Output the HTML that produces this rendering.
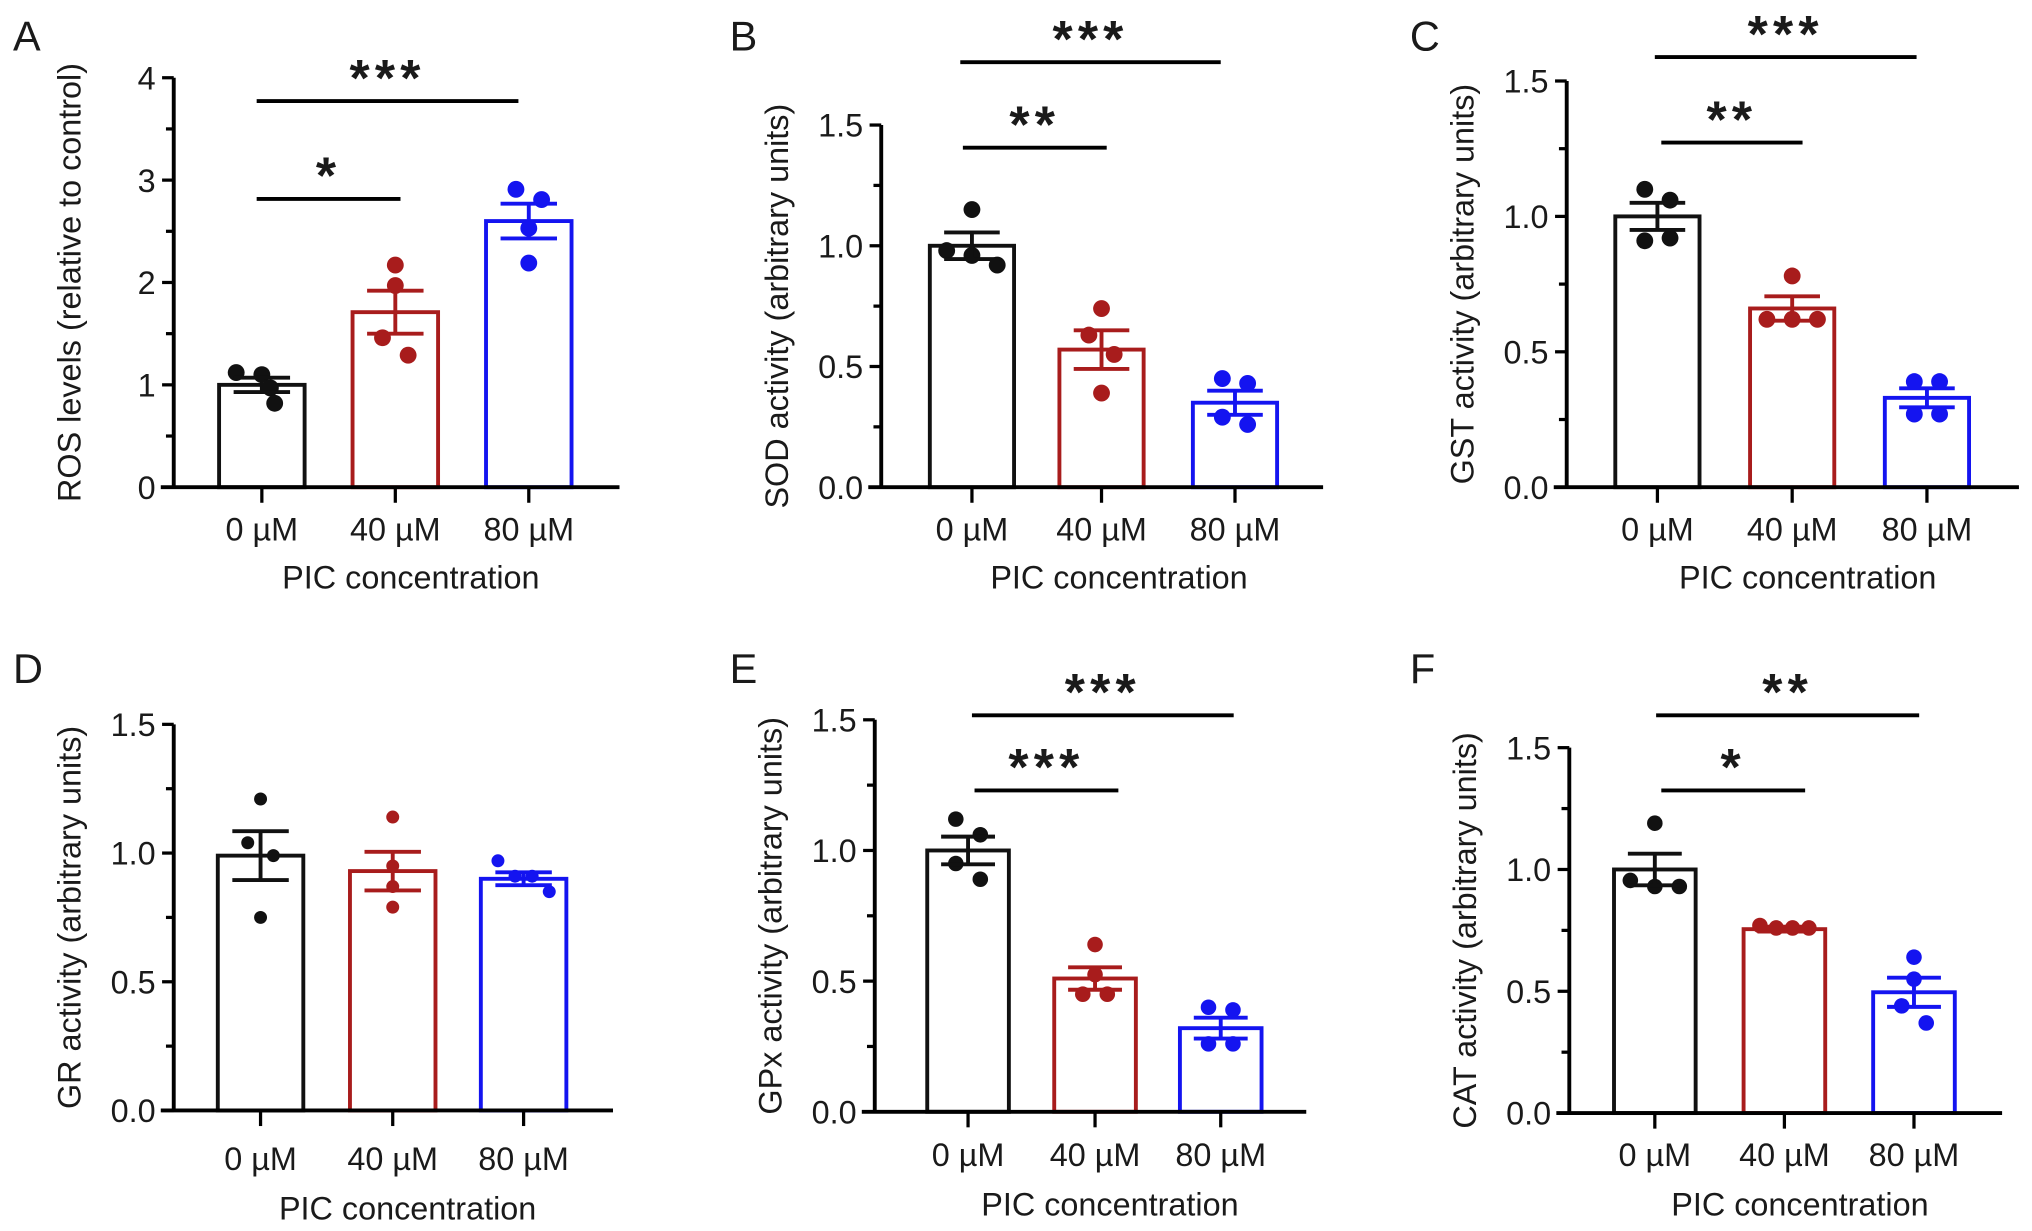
<!DOCTYPE html>
<html><head><meta charset="utf-8">
<style>
html,body{margin:0;padding:0;background:#fff;}
svg{display:block;}
text{font-family:"Liberation Sans",Arial,sans-serif;fill:#1a1a1a;}
</style></head>
<body>
<svg id="fig" width="2032" height="1231" viewBox="0 0 1568 950" xmlns="http://www.w3.org/2000/svg"></svg>
<script>
// ---- data ----
const categories = ["0 \u00b5M", "40 \u00b5M", "80 \u00b5M"];
const panelLetters = ["A","B","C","D","E","F"];
const yTitles = ["ROS levels (relative to control)","SOD activity (arbitrary units)","GST activity (arbitrary units)","GR activity (arbitrary units)","GPx activity (arbitrary units)","CAT activity (arbitrary units)"];
const yTicksA = [0,1,2,3,4];
const yTicksB = [0,0.5,1,1.5];
const yTickLabelsA = ["0","1","2","3","4"];
const yTickLabelsB = ["0.0","0.5","1.0","1.5"];
const meansA = [1.0, 1.71, 2.6];
const semA = [0.07, 0.21, 0.17];
const pointsA = [[1.12,1.10,0.97,0.82],[2.17,1.97,1.46,1.29],[2.91,2.81,2.53,2.19]];
const meansB = [1.0, 0.57, 0.35];
const semB = [0.055, 0.08, 0.05];
const pointsB = [[1.15,0.98,0.96,0.92],[0.74,0.63,0.55,0.39],[0.45,0.43,0.29,0.26]];
const meansC = [1.0, 0.66, 0.33];
const semC = [0.05, 0.045, 0.035];
const pointsC = [[1.10,1.06,0.91,0.92],[0.78,0.62,0.62,0.62],[0.39,0.39,0.27,0.27]];
const meansD = [0.99, 0.93, 0.90];
const semD = [0.095, 0.075, 0.025];
const pointsD = [[1.21,1.04,0.99,0.75],[1.14,0.95,0.87,0.79],[0.97,0.91,0.91,0.85]];
const meansE = [1.0, 0.51, 0.32];
const semE = [0.053, 0.043, 0.04];
const pointsE = [[1.12,1.06,0.95,0.89],[0.64,0.525,0.45,0.45],[0.40,0.39,0.26,0.26]];
const meansF = [1.0, 0.755, 0.496];
const semF = [0.065, 0.01, 0.06];
const pointsF = [[1.19,0.955,0.93,0.93],[0.77,0.76,0.76,0.76],[0.64,0.55,0.44,0.37]];
const sigLabels = [["***","*"],["***","**"],["***","**"],[],["***","***"],["**","*"]];

// ---- layout (not data) ----
const colors = ["#111111","#a81c1c","#1414f0"];
const layouts = [
 {ax:134, y0:376, yTop:60,  yMax:4,   xEnd:478, cx:[202,305,408], bw:66, lx:10, ly:39, lab:417, tit:454, r:6.5, minor:0.5, big:true},
 {ax:680, y0:376, yTop:96.5,yMax:1.5, xEnd:1021,cx:[750,850,953], bw:65, lx:563,ly:39, lab:417, tit:454, r:6.5, minor:0.25},
 {ax:1209,y0:376, yTop:62.5,yMax:1.5, xEnd:1558,cx:[1279,1383,1487],bw:65, lx:1088,ly:39, lab:417, tit:454, r:6.5, minor:0.25},
 {ax:134, y0:857, yTop:559, yMax:1.5, xEnd:473, cx:[201,303,404], bw:66, lx:10, ly:527, lab:903, tit:941, r:5, minor:0.25},
 {ax:675, y0:858, yTop:555.5,yMax:1.5,xEnd:1008,cx:[747,845,942], bw:63, lx:563,ly:527, lab:900, tit:938, r:6, minor:0.25},
 {ax:1211,y0:859, yTop:577, yMax:1.5, xEnd:1545,cx:[1277,1377,1477],bw:63, lx:1088,ly:527, lab:900, tit:938, r:6, minor:0.25}
];
const sigLines = [
 [{y:78,x1:198,x2:400},{y:153.5,x1:198,x2:309}],
 [{y:48,x1:741,x2:942},{y:114,x1:743,x2:854}],
 [{y:44,x1:1277,x2:1479},{y:110,x1:1282,x2:1391}],
 [],
 [{y:552,x1:750,x2:952},{y:610,x1:752,x2:863}],
 [{y:552,x1:1278,x2:1481},{y:610,x1:1282,x2:1393}]
];
const allMeans=[meansA,meansB,meansC,meansD,meansE,meansF];
const allSem=[semA,semB,semC,semD,semE,semF];
const allPts=[pointsA,pointsB,pointsC,pointsD,pointsE,pointsF];

const NS="http://www.w3.org/2000/svg";
const svg=document.getElementById('fig');
function mk(tag,attrs,parent){const e=document.createElementNS(NS,tag);for(const k in attrs)e.setAttribute(k,attrs[k]);(parent||svg).appendChild(e);return e;}

layouts.forEach((L,p)=>{
  const g=mk('g',{});
  
  
  const yS=v=>L.y0-(v/L.yMax)*(L.y0-L.yTop);
  const unitPx=(L.y0-L.yTop)/L.yMax;
  const t=mk('text',{x:L.lx,y:L.ly,'font-size':32},g);t.textContent=panelLetters[p];
  
  
  allMeans[p].forEach((m,i)=>{
    const r=mk('rect',{x:L.cx[i]-L.bw/2,y:yS(m),width:L.bw,height:L.y0-yS(m),fill:'#fff',stroke:colors[i],'stroke-width':3},g);
    
    
  });
  allPts[p].forEach((arr,i)=>{arr.forEach((v,k)=>{
    const grp=[];arr.forEach((u,j)=>{if(Math.abs(u-v)*unitPx<2*L.r+2)grp.push(j);});
    const n=grp.length, j=grp.indexOf(k);
    const step=n>1?Math.min(0.3*L.bw,0.6*L.bw/(n-1)):0;
    const off=(j-(n-1)/2)*step;
    const c=mk('circle',{cx:L.cx[i]+off,cy:yS(v),r:L.r,fill:colors[i]},g);
    
    
  });});
  allMeans[p].forEach((m,i)=>{
    const s=allSem[p][i], w=L.bw*0.33;
    const e=mk('path',{d:`M${L.cx[i]},${yS(m+s)}V${yS(m-s)}M${L.cx[i]-w},${yS(m+s)}H${L.cx[i]+w}M${L.cx[i]-w},${yS(m-s)}H${L.cx[i]+w}`,stroke:colors[i],'stroke-width':3,fill:'none'},g);
    
    
  });
  const ax=mk('path',{d:`M${L.ax},${L.yTop}V${L.y0}M${L.ax-10},${L.y0}H${L.xEnd}`,stroke:'#000','stroke-width':3,fill:'none'},g);
  
  
  const ticks=L.big?yTicksA:yTicksB, labs=L.big?yTickLabelsA:yTickLabelsB;
  ticks.forEach((v,i)=>{
    mk('line',{x1:L.ax-9,x2:L.ax,y1:yS(v),y2:yS(v),stroke:'#000','stroke-width':2.5},g);
    const tl=mk('text',{x:L.ax-14,y:yS(v)+9,'font-size':25,'text-anchor':'end'},g);tl.textContent=labs[i];
    
    
  });
  for(let v=L.minor;v<L.yMax;v+=L.minor*2){mk('line',{x1:L.ax-6,x2:L.ax,y1:yS(v),y2:yS(v),stroke:'#000','stroke-width':2.5},g);}
  categories.forEach((c,i)=>{
    mk('line',{x1:L.cx[i],x2:L.cx[i],y1:L.y0,y2:L.y0+12,stroke:'#000','stroke-width':2.5},g);
    const xl=mk('text',{x:L.cx[i],y:L.lab,'font-size':25,'text-anchor':'middle'},g);xl.textContent=c;
    
    
  });
  const xt=mk('text',{x:(L.cx[0]+L.cx[2])/2+12,y:L.tit,'font-size':25,'text-anchor':'middle'},g);xt.textContent='PIC concentration';
  
  
  const yc=(L.yTop+L.y0)/2, yx=L.ax-72;
  const yt=mk('text',{x:yx,y:yc,'font-size':25,'text-anchor':'middle',transform:`rotate(-90 ${yx} ${yc})`},g);yt.textContent=yTitles[p];
  
  
  sigLines[p].forEach((s,k)=>{
    const sl=mk('line',{x1:s.x1,x2:s.x2,y1:s.y,y2:s.y,stroke:'#000','stroke-width':3},g);
    
    
    const st=mk('text',{x:(s.x1+s.x2)/2,y:s.y-4,'font-size':40,'font-weight':'bold','text-anchor':'middle','letter-spacing':4},g);
    st.textContent=sigLabels[p][k];
    
    
  });
});
</script>
</body></html>
